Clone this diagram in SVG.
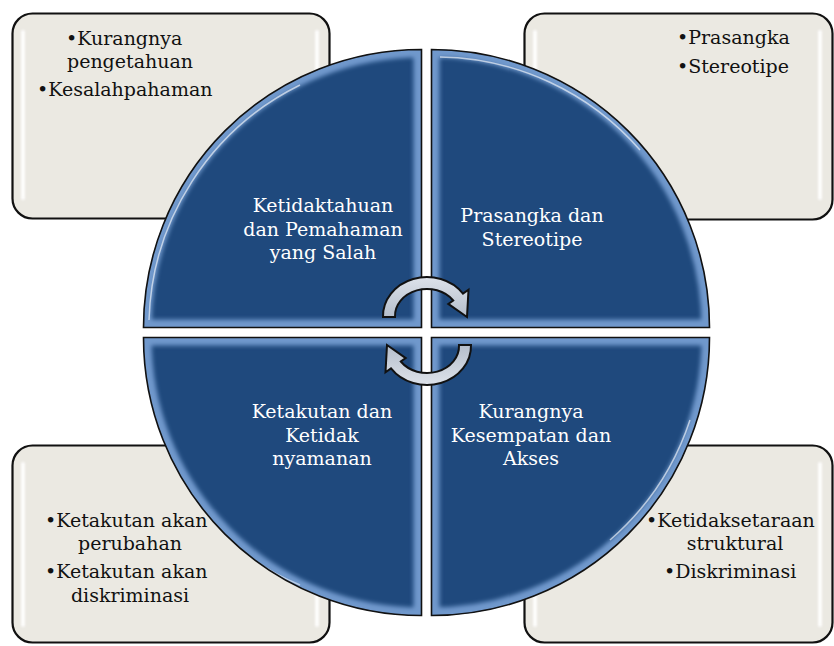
<svg xmlns="http://www.w3.org/2000/svg" width="834" height="646" viewBox="0 0 834 646">
<style>
.box{fill:#EBE9E2;stroke:#111;stroke-width:2.2}
.gloss{fill:#fff;opacity:0.9}
.btxt{font-family:"DejaVu Serif","Liberation Serif",serif;font-size:19px;fill:#111}
.qtxt{font-family:"DejaVu Serif","Liberation Serif",serif;font-size:19px;fill:#fff;text-anchor:middle}
.mid{text-anchor:middle}
.quad{fill:#1F497D}
.qedge{fill:none;stroke:#111;stroke-width:1.6}
.bevel{fill:none;stroke:#6F98CC;stroke-width:16}
.arrow{fill:url(#arrowGrad);stroke:#111;stroke-width:2}
</style>
<defs>
<filter id="blur2" x="-20%" y="-20%" width="140%" height="140%"><feGaussianBlur stdDeviation="2.2"/></filter>
<filter id="blur1" x="-50%" y="-10%" width="200%" height="120%"><feGaussianBlur stdDeviation="1.2"/></filter>
<linearGradient id="arrowGrad" x1="0" y1="0" x2="0" y2="1">
<stop offset="0" stop-color="#DDE2EA"/><stop offset="1" stop-color="#B5BECB"/>
</linearGradient>
<path id="qTL" d="M421.5,327.5 H143.5 A278,278 0 0 1 421.5,49.5 Z"/>
<path id="qTR" d="M431.5,327.5 V49.5 A278,278 0 0 1 709.5,327.5 Z"/>
<path id="qBL" d="M421.5,337.5 V615.5 A278,278 0 0 1 143.5,337.5 Z"/>
<path id="qBR" d="M431.5,337.5 H709.5 A278,278 0 0 1 431.5,615.5 Z"/>
<clipPath id="cTL"><use href="#qTL"/></clipPath>
<clipPath id="cTR"><use href="#qTR"/></clipPath>
<clipPath id="cBL"><use href="#qBL"/></clipPath>
<clipPath id="cBR"><use href="#qBR"/></clipPath>
<path id="carrow" d="M383,317 A44,39 0 0 1 463,293.6 L468.5,289.8 L467,317 L448.3,303.9 L453.2,300.5 A32,27 0 0 0 395,317 Z"/>
</defs>

<g id="box-tl">
<rect class="box" x="12.5" y="13.5" width="317" height="205" rx="20"/>
<rect class="gloss" x="21" y="30" width="4" height="170" rx="2" filter="url(#blur1)"/>
<rect class="gloss" x="315" y="30" width="4" height="170" rx="2" filter="url(#blur1)"/>
<text class="btxt" x="66" y="45">•Kurangnya</text>
<text class="btxt mid" x="130" y="68">pengetahuan</text>
<text class="btxt" x="37" y="96">•Kesalahpahaman</text>
</g>
<g id="box-tr">
<rect class="box" x="524.5" y="13.5" width="308" height="206" rx="20"/>
<rect class="gloss" x="533" y="30" width="4" height="170" rx="2" filter="url(#blur1)"/>
<rect class="gloss" x="818" y="30" width="4" height="170" rx="2" filter="url(#blur1)"/>
<text class="btxt" x="677" y="44">•Prasangka</text>
<text class="btxt" x="677" y="73">•Stereotipe</text>
</g>
<g id="box-bl">
<rect class="box" x="12.5" y="445.5" width="317" height="197" rx="20"/>
<rect class="gloss" x="21" y="462" width="4" height="165" rx="2" filter="url(#blur1)"/>
<rect class="gloss" x="315" y="462" width="4" height="165" rx="2" filter="url(#blur1)"/>
<text class="btxt" x="45" y="527">•Ketakutan akan</text>
<text class="btxt mid" x="130" y="550">perubahan</text>
<text class="btxt" x="45" y="578">•Ketakutan akan</text>
<text class="btxt mid" x="130" y="602">diskriminasi</text>
</g>
<g id="box-br">
<rect class="box" x="524.5" y="445.5" width="308" height="197" rx="20"/>
<rect class="gloss" x="533" y="462" width="4" height="165" rx="2" filter="url(#blur1)"/>
<rect class="gloss" x="818" y="462" width="4" height="165" rx="2" filter="url(#blur1)"/>
<text class="btxt" x="646" y="527">•Ketidaksetaraan</text>
<text class="btxt mid" x="735" y="550">struktural</text>
<text class="btxt" x="664" y="578">•Diskriminasi</text>
</g>

<g id="quad-tl">
<use href="#qTL" class="quad"/>
<g clip-path="url(#cTL)"><use href="#qTL" class="bevel" filter="url(#blur2)"/>
<path d="M149,320 A271,271 0 0 1 300,85" fill="none" stroke="#fff" stroke-width="1.5" opacity="0.6"/></g>
<use href="#qTL" class="qedge"/>
<text class="qtxt" x="323" y="212">Ketidaktahuan</text>
<text class="qtxt" x="323" y="236">dan Pemahaman</text>
<text class="qtxt" x="323" y="259">yang Salah</text>
</g>
<g id="quad-tr">
<use href="#qTR" class="quad"/>
<g clip-path="url(#cTR)"><use href="#qTR" class="bevel" filter="url(#blur2)"/>
<path d="M440,57 A271,271 0 0 1 640,150" fill="none" stroke="#fff" stroke-width="1.5" opacity="0.6"/></g>
<use href="#qTR" class="qedge"/>
<text class="qtxt" x="532" y="222">Prasangka dan</text>
<text class="qtxt" x="532" y="246">Stereotipe</text>
</g>
<g id="quad-bl">
<use href="#qBL" class="quad"/>
<g clip-path="url(#cBL)"><use href="#qBL" class="bevel" filter="url(#blur2)"/>
<path d="M190,500 A271,271 0 0 0 300,585" fill="none" stroke="#fff" stroke-width="1.5" opacity="0.5"/></g>
<use href="#qBL" class="qedge"/>
<text class="qtxt" x="322" y="418">Ketakutan dan</text>
<text class="qtxt" x="322" y="442">Ketidak</text>
<text class="qtxt" x="322" y="465">nyamanan</text>
</g>
<g id="quad-br">
<use href="#qBR" class="quad"/>
<g clip-path="url(#cBR)"><use href="#qBR" class="bevel" filter="url(#blur2)"/>
<path d="M690,420 A271,271 0 0 1 610,540" fill="none" stroke="#fff" stroke-width="1.5" opacity="0.6"/></g>
<use href="#qBR" class="qedge"/>
<text class="qtxt" x="531" y="418">Kurangnya</text>
<text class="qtxt" x="531" y="442">Kesempatan dan</text>
<text class="qtxt" x="531" y="465">Akses</text>
</g>

<g id="connectors">
<use href="#carrow" class="arrow"/>
<use href="#carrow" class="arrow" transform="rotate(180 427 331)"/>
</g>
</svg>
